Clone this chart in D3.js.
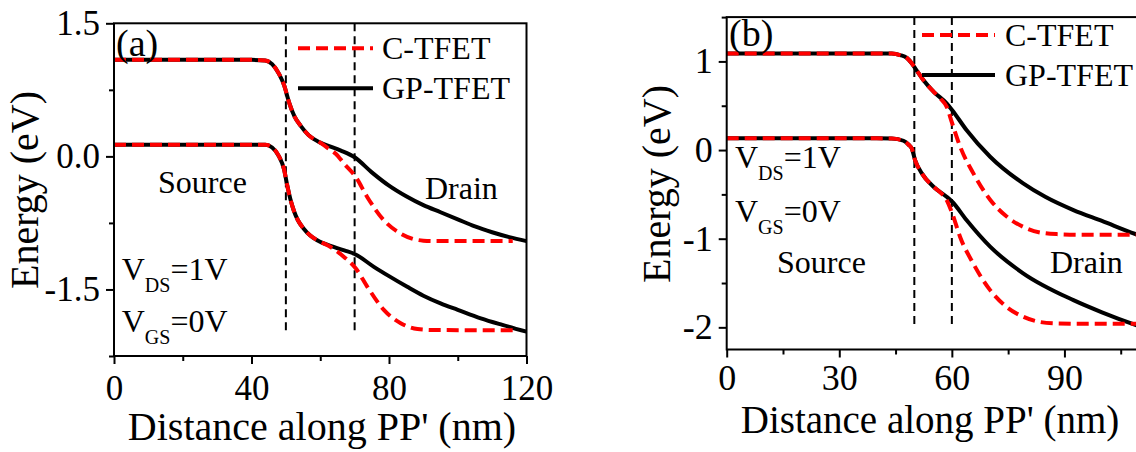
<!DOCTYPE html>
<html>
<head>
<meta charset="utf-8">
<script src="https://cdn.jsdelivr.net/npm/d3@7"></script>
<style>
  body { margin: 0; background: #fff; }
</style>
</head>
<body>
<svg id="chart" width="1136" height="452"></svg>
<script>
// band edges along PP': [distance nm, energy eV]

// panel (a)
const aCondShared = [[0, 1.088], [40, 1.088], [44, 1.08], [46, 1.04], [48, 0.93], [49.5, 0.8],
  [51, 0.6], [52.5, 0.45], [54.2, 0.35], [56.6, 0.24], [60, 0.155]];
const aCondGP = aCondShared.concat([[63, 0.11], [66, 0.065], [70, -0.01], [75, -0.18], [80, -0.33],
  [85, -0.45], [90, -0.55], [95, -0.63], [100, -0.71], [105, -0.79], [110, -0.855], [115, -0.91], [120, -0.955]]);
const aCondC = aCondShared.concat([[62, 0.1], [64.5, 0.03], [67, -0.085], [70.3, -0.23], [73.7, -0.46],
  [78.5, -0.72], [83.4, -0.87], [87, -0.93], [90, -0.95], [93, -0.955], [116, -0.955]]);

const aValShared = [[0, 0.13], [40, 0.13], [44, 0.13], [46, 0.1], [48, 0.0], [49.5, -0.15], [50.3, -0.31],
  [51.3, -0.48], [52.3, -0.61], [53.5, -0.72], [55.2, -0.815], [57, -0.89], [59.1, -0.945]];
const aValGP = aValShared.concat([[63.9, -1.02], [67, -1.06], [70, -1.1], [75.6, -1.245], [80, -1.35],
  [85.3, -1.47], [90, -1.57], [95, -1.657], [100, -1.73], [106.7, -1.826], [113, -1.9], [120, -1.976]]);
const aValC = aValShared.concat([[62, -1.0], [64.5, -1.06], [66.9, -1.133], [70.3, -1.26], [73.7, -1.47],
  [78.5, -1.73], [83.4, -1.88], [88.3, -1.946], [93, -1.957], [116, -1.96]]);

// panel (b)
const bCondShared = [[0, 1.09], [40, 1.09], [44, 1.088], [46.2, 1.072], [48, 1.04], [49.3, 0.98],
  [50.6, 0.9], [52.4, 0.79], [55.1, 0.66]];
const bCondGP = bCondShared.concat([[58.6, 0.527], [60.1, 0.45], [63.9, 0.226], [70.2, -0.075], [79, -0.376],
  [85, -0.53], [92.4, -0.677], [100, -0.8], [109.1, -0.95], [120, -1.08]]);
const bCondC = bCondShared.concat([[57, 0.58], [58.6, 0.49], [60.1, 0.3], [62.2, 0.04], [65.7, -0.26],
  [70.2, -0.56], [74.6, -0.75], [79, -0.866], [83.5, -0.93], [87.9, -0.948], [95, -0.955], [120, -0.955]]);

const bValShared = [[0, 0.132], [40, 0.132], [44, 0.13], [47.1, 0.105], [48.5, 0.06], [49.3, 0.02],
  [50.2, -0.113], [52, -0.263], [55.1, -0.414]];
const bValGP = bValShared.concat([[58.6, -0.527], [60.1, -0.583], [63.9, -0.79], [70.2, -1.09], [79, -1.39],
  [92.4, -1.693], [100, -1.83], [109.1, -1.975], [120, -2.12]]);
const bValC = bValShared.concat([[57, -0.48], [58.6, -0.564], [60.1, -0.714], [62.2, -0.98], [65.7, -1.28],
  [70.2, -1.58], [74.6, -1.77], [79, -1.88], [83.5, -1.94], [87.9, -1.956], [95, -1.96], [120, -1.96]]);

// ticks (panel b is cropped on the right, so its 120 label is not shown)
const aXMajor = [0, 40, 80, 120];
const aXMinor = [20, 60, 100];
const aYMajor = [1.5, 0, -1.5];
const aYMinor = [0.75, -0.75, -2.25];
const bXMajor = [0, 30, 60, 90];
const bXMinor = [15, 45, 75, 105];
const bYMajor = [1, 0, -1, -2];
const bYMinor = [1.5, 0.5, -0.5, -1.5];

const legendNames = ['C-TFET', 'GP-TFET'];

const FONT = '"Liberation Serif", Tinos, "Times New Roman", "Nimbus Roman", "DejaVu Serif", serif';

const svg = d3.select('#chart')
  .style('font-family', FONT);
svg.append('rect').attr('width', 1136).attr('height', 452).attr('fill', '#fff');

const line = d3.line().curve(d3.curveMonotoneX);

function panel(p) {
  const x = d3.scaleLinear().domain([0, 120]).range([p.left, p.right]);
  const y = d3.scaleLinear().domain([-2.25, 1.5]).range([p.bottom, p.top]);
  line.x(d => x(d[0])).y(d => y(d[1]));
  const g = svg.append('g').attr('font-family', FONT);

  // dashed region boundaries
  p.vlines.forEach(v => {
    g.append('line')
      .attr('x1', x(v)).attr('x2', x(v))
      .attr('y1', y(1.5)).attr('y2', y(-2.0))
      .attr('stroke', '#000').attr('stroke-width', 2)
      .attr('stroke-dasharray', '8,5');
  });

  // curves: black solid under red dashed
  [p.condGP, p.valGP].forEach(s => {
    g.append('path').attr('d', line(s)).attr('fill', 'none')
      .attr('stroke', '#000').attr('stroke-width', 4);
  });
  [p.condC, p.valC].forEach(s => {
    g.append('path').attr('d', line(s)).attr('fill', 'none')
      .attr('stroke', '#ff0000').attr('stroke-width', 4)
      .attr('stroke-dasharray', '12,6');
  });

  // frame
  g.append('rect')
    .attr('x', p.left).attr('y', p.top)
    .attr('width', p.right - p.left).attr('height', p.bottom - p.top)
    .attr('fill', 'none').attr('stroke', '#000').attr('stroke-width', 2);

  const fmt = d => p.fmt(d).replace('\u2212', '-');

  // axes
  const xMin = g.append('g').attr('transform', `translate(0,${p.bottom})`)
    .call(d3.axisBottom(x).tickValues(p.xMinor).tickSize(5).tickSizeOuter(0).tickFormat(''));
  const xMaj = g.append('g').attr('transform', `translate(0,${p.bottom})`)
    .call(d3.axisBottom(x).tickValues(p.xMajor).tickSize(8).tickSizeOuter(0).tickPadding(p.xPad));
  const yMin = g.append('g').attr('transform', `translate(${p.left},0)`)
    .call(d3.axisLeft(y).tickValues(p.yMinor).tickSize(5).tickSizeOuter(0).tickFormat(''));
  const yMaj = g.append('g').attr('transform', `translate(${p.left},0)`)
    .call(d3.axisLeft(y).tickValues(p.yMajor).tickSize(8).tickSizeOuter(0).tickPadding(p.yPad).tickFormat(fmt));
  [xMin, xMaj, yMin, yMaj].forEach(a => {
    a.attr('font-family', FONT).attr('font-size', p.tickFont);
    a.select('.domain').remove();
    a.selectAll('line').attr('stroke-width', 2);
  });

  // axis titles
  g.append('text').attr('x', p.xTitle[0]).attr('y', p.xTitle[1])
    .attr('text-anchor', 'middle').attr('font-size', p.titleFont)
    .text("Distance along PP' (nm)");
  g.append('text')
    .attr('transform', `translate(${p.yTitle[0]},${p.yTitle[1]}) rotate(-90)`)
    .attr('text-anchor', 'middle').attr('font-size', 40)
    .text('Energy (eV)');

  // panel tag
  g.append('text').attr('x', p.tag[0]).attr('y', p.tag[1]).attr('font-size', 38).text(p.tagText);

  // legend
  const lg = p.legend;
  g.append('line').attr('x1', lg.x1).attr('x2', lg.x2).attr('y1', lg.y[0]).attr('y2', lg.y[0])
    .attr('stroke', '#ff0000').attr('stroke-width', 4).attr('stroke-dasharray', '12,6');
  g.append('line').attr('x1', lg.x1).attr('x2', lg.x2).attr('y1', lg.y[1]).attr('y2', lg.y[1])
    .attr('stroke', '#000').attr('stroke-width', 4);
  legendNames.forEach((n, i) => {
    g.append('text').attr('x', lg.tx).attr('y', lg.y[i] + 11).attr('font-size', 32).text(n);
  });

  // annotations
  g.append('text').attr('x', p.source[0]).attr('y', p.source[1]).attr('font-size', 32).text('Source');
  g.append('text').attr('x', p.drain[0]).attr('y', p.drain[1]).attr('font-size', 32).text('Drain');
  [['DS', '=1V', p.vds], ['GS', '=0V', p.vgs]].forEach(([sub, rest, pos]) => {
    const t = g.append('text').attr('x', pos[0]).attr('y', pos[1]).attr('font-size', 32);
    t.append('tspan').text('V');
    t.append('tspan').attr('dy', 12).attr('font-size', 20).text(sub);
    t.append('tspan').attr('dy', -12).text(rest);
  });
}

panel({
  left: 114, right: 526.5, top: 23.3, bottom: 356,
  condGP: aCondGP, condC: aCondC, valGP: aValGP, valC: aValC,
  vlines: [50, 70],
  xMajor: aXMajor, xMinor: aXMinor, yMajor: aYMajor, yMinor: aYMinor,
  fmt: d3.format('.1f'), tickFont: 35, xPad: 11, yPad: 6, titleFont: 40,
  xTitle: [322, 440], yTitle: [38, 190],
  tag: [116, 56], tagText: '(a)',
  legend: { x1: 298, x2: 373, tx: 382, y: [48.3, 88.3] },
  source: [158, 193], drain: [425, 199],
  vds: [121.7, 280], vgs: [121.7, 331.7]
});

panel({
  left: 726.7, right: 1177, top: 17.1, bottom: 349.5,
  condGP: bCondGP, condC: bCondC, valGP: bValGP, valC: bValC,
  vlines: [50, 60],
  xMajor: bXMajor, xMinor: bXMinor, yMajor: bYMajor, yMinor: bYMinor,
  fmt: d3.format('d'), tickFont: 36, xPad: 6.5, yPad: 6, titleFont: 39,
  xTitle: [930, 433], yTitle: [670, 184],
  tag: [729, 46], tagText: '(b)',
  legend: { x1: 922, x2: 995, tx: 1005, y: [35, 75] },
  source: [777, 273], drain: [1050, 273],
  vds: [735, 168.3], vgs: [735, 221.7]
});
</script>
</body>
</html>
